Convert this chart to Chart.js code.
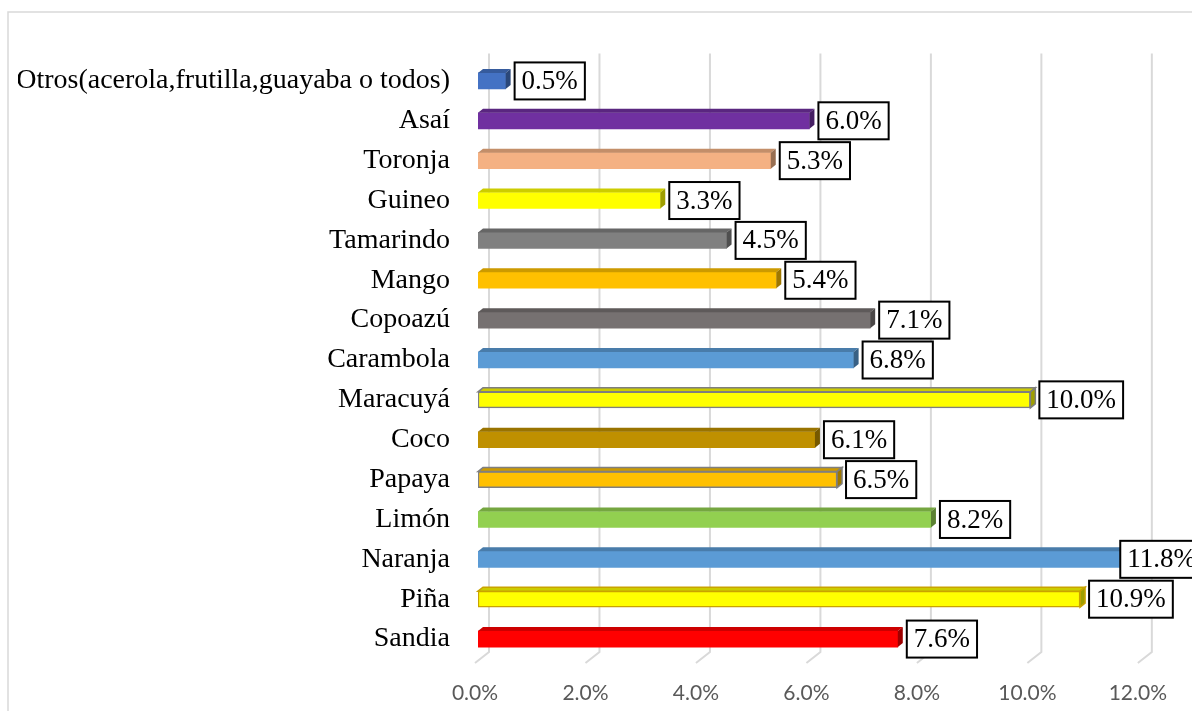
<!DOCTYPE html>
<html>
<head>
<meta charset="utf-8">
<script src="https://cdn.jsdelivr.net/npm/chart.js@4"></script>
<style>
  html, body { margin: 0; padding: 0; background: #ffffff; }
  #wrap { width: 1192px; height: 711px; position: relative; overflow: hidden; }
</style>
</head>
<body>
<div id="wrap"><canvas id="c" width="1192" height="711"></canvas></div>
<script>
const categories = ['Otros(acerola,frutilla,guayaba o todos)', 'Asaí', 'Toronja', 'Guineo', 'Tamarindo', 'Mango', 'Copoazú', 'Carambola', 'Maracuyá', 'Coco', 'Papaya', 'Limón', 'Naranja', 'Piña', 'Sandia'];
const values = [0.5, 6.0, 5.3, 3.3, 4.5, 5.4, 7.1, 6.8, 10.0, 6.1, 6.5, 8.2, 11.8, 10.9, 7.6];
const barColors = ['#4472C4', '#7030A0', '#F4B183', '#FFFF00', '#808080', '#FFC000', '#767171', '#5B9BD5', '#FFFF00', '#BF9000', '#FFC000', '#92D050', '#5B9BD5', '#FFFF00', '#FF0000'];
const edgeColors = [null, null, null, null, null, null, null, null, '#7F7F7F', null, '#7F7F7F', null, null, '#C9A300', null];
const xMin = 0, xMax = 12, xStep = 2;

function shade(hex, f) {
  const n = parseInt(hex.slice(1), 16);
  const r = Math.round(((n >> 16) & 255) * f), g = Math.round(((n >> 8) & 255) * f), b = Math.round((n & 255) * f);
  return 'rgb(' + r + ',' + g + ',' + b + ')';
}

const DX = 5, DY = 4;

const framePlugin = {
  id: 'frame',
  beforeDraw(chart) {
    const ctx = chart.ctx;
    ctx.save();
    ctx.strokeStyle = '#d9d9d9';
    ctx.lineWidth = 1.5;
    ctx.strokeRect(8, 12, 1400, 900);
    ctx.restore();
  },
  beforeDatasetsDraw(chart) {
    const ctx = chart.ctx, xs = chart.scales.x, area = chart.chartArea;
    ctx.save();
    ctx.strokeStyle = '#d9d9d9';
    ctx.lineWidth = 2;
    xs.ticks.forEach(t => {
      const px = xs.getPixelForValue(t.value);
      ctx.beginPath();
      ctx.moveTo(px + 11, area.top - 7.5);
      ctx.lineTo(px + 11, area.bottom - 7);
      ctx.lineTo(px - 3, area.bottom + 4);
      ctx.stroke();
    });
    ctx.restore();
  },
  afterDatasetsDraw(chart) {
    const ctx = chart.ctx;
    const meta = chart.getDatasetMeta(0);
    ctx.save();
    meta.data.forEach((bar, i) => {
      const top = bar.y - bar.height / 2, bot = bar.y + bar.height / 2;
      const left = bar.base, right = bar.x;
      const edge = edgeColors[i];
      ctx.beginPath();
      ctx.moveTo(left, top);
      ctx.lineTo(left + DX, top - DY);
      ctx.lineTo(right + DX, top - DY);
      ctx.lineTo(right, top);
      ctx.closePath();
      ctx.fillStyle = shade(barColors[i], 0.8);
      ctx.fill();
      if (edge) { ctx.strokeStyle = edge; ctx.lineWidth = 1.5; ctx.stroke(); }
      ctx.beginPath();
      ctx.moveTo(right, top);
      ctx.lineTo(right + DX, top - DY);
      ctx.lineTo(right + DX, bot - DY);
      ctx.lineTo(right, bot);
      ctx.closePath();
      ctx.fillStyle = shade(barColors[i], 0.62);
      ctx.fill();
      if (edge) { ctx.strokeStyle = edge; ctx.lineWidth = 1.5; ctx.stroke(); }
    });
    ctx.font = '27px "Liberation Serif", "Times New Roman", serif';
    ctx.textBaseline = 'middle';
    ctx.textAlign = 'left';
    meta.data.forEach((bar, i) => {
      const txt = values[i].toFixed(1) + '%';
      const tw = ctx.measureText(txt).width;
      const bw = tw + 14, bh = 37;
      let bx = bar.x + DX + 4;
      bx = Math.min(bx, chart.width - bw + 11);
      const by = bar.y - bh / 2;
      ctx.fillStyle = '#ffffff';
      ctx.fillRect(bx, by, bw, bh);
      ctx.strokeStyle = '#000000';
      ctx.lineWidth = 2;
      ctx.strokeRect(bx, by, bw, bh);
      ctx.fillStyle = '#000000';
      ctx.fillText(txt, bx + 7, bar.y + 1);
    });
    ctx.restore();
  }
};

new Chart(document.getElementById('c'), {
  type: 'bar',
  data: {
    labels: categories,
    datasets: [{
      data: values,
      backgroundColor: barColors,
      borderColor: barColors.map((c, i) => edgeColors[i] || c),
      borderWidth: barColors.map((c, i) => edgeColors[i] ? 1.5 : 0),
      borderSkipped: false,
      barThickness: 16
    }]
  },
  options: {
    indexAxis: 'y',
    responsive: false,
    animation: false,
    layout: { padding: { left: 18, right: 51, top: 61, bottom: 4 } },
    plugins: { legend: { display: false }, tooltip: { enabled: false } },
    scales: {
      x: {
        min: xMin, max: xMax,
        grid: { display: false, drawTicks: false },
        border: { display: false },
        ticks: {
          stepSize: xStep,
          padding: 22,
          labelOffset: -3,
          color: '#595959',
          font: { family: 'Lato, "Open Sans", sans-serif', size: 21 },
          callback: v => Number(v).toFixed(1) + '%'
        },
        afterFit(s) { s.height = 48; }
      },
      y: {
        grid: { display: false, drawTicks: false },
        border: { display: false },
        ticks: {
          padding: 28,
          color: '#000000',
          font: { family: '"Liberation Serif", "Times New Roman", serif', size: 28 },
          autoSkip: false
        },
        afterFit(s) { s.width = 460; }
      }
    }
  },
  plugins: [framePlugin]
});
</script>
</body>
</html>
